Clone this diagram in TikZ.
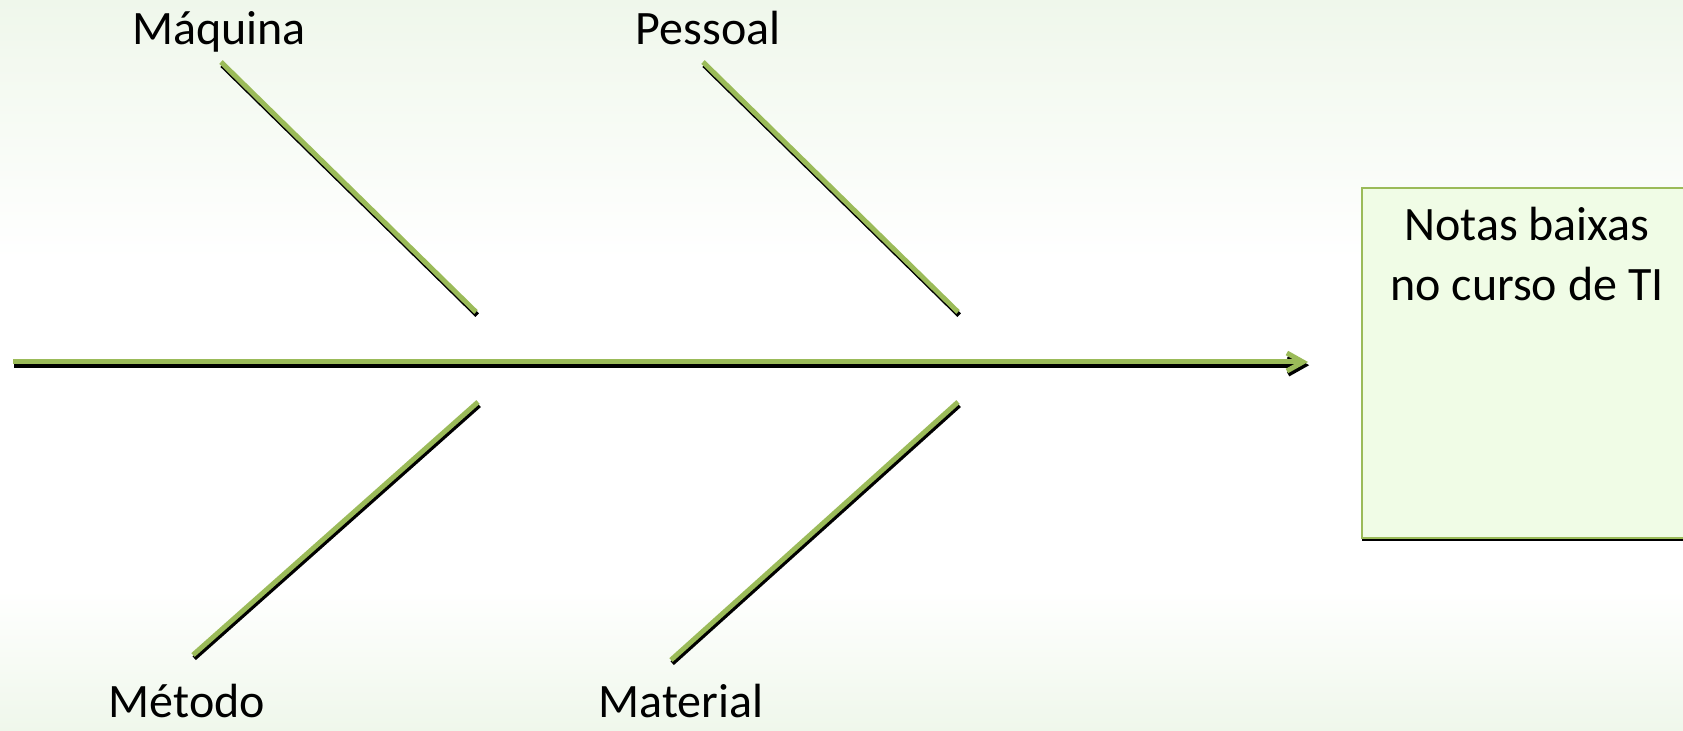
\documentclass[tikz,border=0pt]{standalone}
\usepackage{fontspec}
\setmainfont{Carlito}
\usetikzlibrary{arrows.meta,positioning,shadows}
\definecolor{fishgreen}{HTML}{9BBB59}
\definecolor{boxfill}{HTML}{F0FCE6}
\definecolor{bgtint}{HTML}{EFF7EB}

\begin{document}
\begin{tikzpicture}[
      x=0.5pt,y=-0.5pt,
      bone/.style={draw=fishgreen,line width=2.5pt,
                   preaction={draw=black,line width=2.5pt,
                              transform canvas={shift={(0.6pt,-1.6pt)}}}},
      spinetip/.style={-{Straight Barb[length=8pt,width=9pt]}},
      cause/.style={font=\fontsize{24}{30}\selectfont,anchor=base,inner sep=0pt},
      effectbox/.style={draw=fishgreen,line width=1pt,fill=boxfill,
                        minimum width=165pt,minimum height=175pt,
                        drop shadow={shadow xshift=0pt,shadow yshift=-1.6pt,
                                     fill=black,opacity=1}},
    ]
    \useasboundingbox (0,0) rectangle (1683,731);
    % background
    \fill[white] (0,0) rectangle (1683,731);
    \shade[top color=bgtint,bottom color=white] (0,0) rectangle (1683,260);
    \shade[top color=white,bottom color=bgtint] (0,590) rectangle (1683,731);

    % effect
    \node[effectbox] (effect) at (1527,363) {};
    \node[cause,align=center,below=10pt of effect.north] (effecttext) {Notas baixas\\no curso de TI};

    % spine
    \coordinate (tail) at (13,362);
    \coordinate (head) at (1308,362);
    \draw[bone,spinetip] (tail) -- (head);

    % causes
    \node[cause] (maquina) at (219,45) {Máquina};
    \node[cause] (pessoal) at (708,45) {Pessoal};
    \node[cause] (metodo) at (187,718) {Método};
    \node[cause] (material) at (681,718) {Material};

    \coordinate (maq1) at (221,62);  \coordinate (maq2) at (476,312);
    \coordinate (pes1) at (703,62);  \coordinate (pes2) at (958,312);
    \coordinate (met1) at (478,402); \coordinate (met2) at (193,655);
    \coordinate (mat1) at (958,402); \coordinate (mat2) at (671,660);

    \draw[bone] (maq1) -- (maq2);
    \draw[bone] (pes1) -- (pes2);
    \draw[bone] (met1) -- (met2);
    \draw[bone] (mat1) -- (mat2);
  \end{tikzpicture}
\end{document}
